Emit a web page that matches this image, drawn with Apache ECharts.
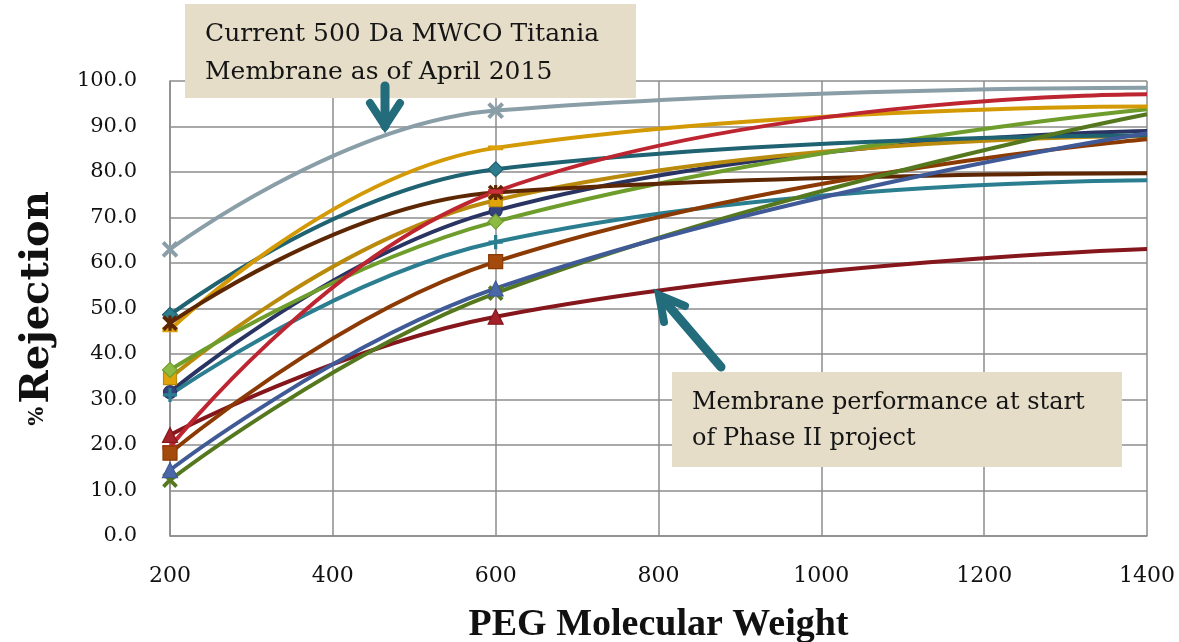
<!DOCTYPE html>
<html>
<head>
<meta charset="utf-8">
<script src="https://cdn.jsdelivr.net/npm/echarts@6/dist/echarts.min.js"></script>
<style>
  html, body { margin: 0; padding: 0; background: #ffffff; }
  #chart { width: 1179px; height: 642px; }
</style>
</head>
<body>
<div id="chart"></div>
<script>
// ---- data ----
const pegMW = [200, 600, 1400];
const yTicks = [0, 10, 20, 30, 40, 50, 60, 70, 80, 90, 100];
const xTicks = [200, 400, 600, 800, 1000, 1200, 1400];

const greyBlue   = [63.0, 93.5, 98.5];
const darkTeal   = [48.6, 80.6, 88.0];
const darkBrown  = [46.8, 75.5, 79.7];
const brightGold = [45.3, 85.3, 94.4];
const lightGreen = [36.5, 69.1, 93.8];
const khakiGold  = [34.7, 73.8, 87.9];
const darkNavy   = [31.6, 71.5, 89.0];
const teal       = [31.0, 64.6, 78.2];
const darkRed    = [22.2, 48.2, 63.1];
const brightRed  = [19.5, 75.7, 97.1];
const brown      = [18.2, 60.3, 87.2];
const blue       = [14.5, 54.4, 88.5];
const olive      = [12.3, 53.4, 92.7];

// ---- marker shapes ----
const X_PATH = 'path://M0,1.3L1.3,0L5,3.7L8.7,0L10,1.3L6.3,5L10,8.7L8.7,10L5,6.3L1.3,10L0,8.7L3.7,5Z';
const PLUS_PATH = 'path://M4.2,0L5.8,0L5.8,4.2L10,4.2L10,5.8L5.8,5.8L5.8,10L4.2,10L4.2,5.8L0,5.8L0,4.2L4.2,4.2Z';
const STAR_PATH = 'path://M0,1.3L1.3,0L5,3.7L8.7,0L10,1.3L6.3,5L10,8.7L8.7,10L5,6.3L1.3,10L0,8.7L3.7,5Z M4.3,0L5.7,0L5.7,10L4.3,10Z';

// series definitions (draw order: later on top)
const seriesDefs = [
  { name: 'Navy',        data: darkNavy,   line: '#2a3463', fill: '#34427a', symbol: 'circle',   size: 13 },
  { name: 'Teal',        data: teal,       line: '#2b7d90', fill: '#2b7d90', symbol: PLUS_PATH,  size: 13 },
  { name: 'Khaki gold',  data: khakiGold,  line: '#b98a0c', fill: '#e0a40a', symbol: 'rect',     size: 13 },
  { name: 'Light green', data: lightGreen, line: '#6f9d2c', fill: '#8cba42', symbol: 'diamond',  size: 15 },
  { name: 'Dark teal',   data: darkTeal,   line: '#1f6272', fill: '#2d7d8e', symbol: 'diamond',  size: 15 },
  { name: 'Bright gold', data: brightGold, line: '#d49a05', fill: '#e0a40a', symbol: 'rect',     size: [13, 4] },
  { name: 'Dark brown',  data: darkBrown,  line: '#5e2704', fill: '#5e2704', symbol: STAR_PATH,  size: 14 },
  { name: 'Grey',        data: greyBlue,   line: '#8a9ea8', fill: '#8a9ea8', symbol: X_PATH,     size: 15 },
  { name: 'Dark red',    data: darkRed,    line: '#85161c', fill: '#a3222a', symbol: 'triangle', size: 15 },
  { name: 'Bright red',  data: brightRed,  line: '#bd2530', fill: '#c8303a', symbol: 'rect',     size: [13, 4] },
  { name: 'Brown',       data: brown,      line: '#8c3a04', fill: '#a34a0c', symbol: 'rect',     size: 14 },
  { name: 'Olive',       data: olive,      line: '#55781f', fill: '#55781f', symbol: X_PATH,     size: 14 },
  { name: 'Blue',        data: blue,       line: '#3f5a96', fill: '#4a67a8', symbol: 'triangle', size: 15 }
];

const chart = echarts.init(document.getElementById('chart'), null, { renderer: 'canvas' });

const series = seriesDefs.map(function (d) {
  return {
    name: d.name,
    type: 'line',
    smooth: 0.45,
    z: 2,
    symbol: d.symbol,
    symbolSize: d.size,
    lineStyle: { color: d.line, width: 4 },
    itemStyle: { color: d.fill, borderColor: d.line, borderWidth: 1.2 },
    emphasis: { disabled: true },
    data: pegMW.map(function (x, i) {
      const item = { value: [x, d.data[i]] };
      if (x === pegMW[pegMW.length - 1]) { item.symbol = 'none'; }
      return item;
    })
  };
});

const serif = '"DejaVu Serif", "Liberation Serif", serif';
const arrowColor = '#226c7c';

const option = {
  backgroundColor: '#ffffff',
  animation: false,
  grid: { left: 170, right: 32, top: 81, bottom: 106, containLabel: false, outerBoundsMode: 'none' },
  xAxis: {
    type: 'value',
    min: xTicks[0],
    max: xTicks[xTicks.length - 1],
    interval: 200,
    name: 'PEG Molecular Weight',
    nameLocation: 'middle',
    nameGap: 70,
    nameTextStyle: { fontFamily: '"Liberation Serif", serif', fontWeight: 'bold', fontSize: 38, color: '#111' },
    axisLine: { show: true, lineStyle: { color: '#8c8c8c', width: 1.5 } },
    axisTick: { show: false },
    axisLabel: { margin: 29, fontFamily: serif, fontSize: 22, color: '#111',
      formatter: function (v) { return String(v); } },
    splitLine: { show: true, lineStyle: { color: '#8c8c8c', width: 1.5 } }
  },
  yAxis: {
    type: 'value',
    min: yTicks[0],
    max: yTicks[yTicks.length - 1],
    interval: 10,
    name: '{p|%} {r|Rejection}',
    nameLocation: 'middle',
    nameRotate: 90,
    nameGap: 112,
    nameTextStyle: {
      rich: {
        p: { fontFamily: serif, fontWeight: 'bold', fontSize: 20, color: '#111' },
        r: { fontFamily: serif, fontWeight: 'bold', fontSize: 40, color: '#111' }
      }
    },
    axisLine: { show: true, lineStyle: { color: '#8c8c8c', width: 1.5 } },
    axisTick: { show: false },
    axisLabel: {
      margin: 33, fontFamily: serif, fontSize: 21, color: '#111',
      formatter: function (v) { return v.toFixed(1); }
    },
    splitLine: { show: true, lineStyle: { color: '#8c8c8c', width: 1.5 } }
  },
  graphic: [
    // top annotation box
    { type: 'rect', z: 100, shape: { x: 185, y: 4, width: 451, height: 94 }, style: { fill: '#e6ddc8' } },
    { type: 'text', z: 101, style: {
        x: 205, y: 15, text: 'Current 500 Da MWCO Titania\nMembrane as of April 2015',
        font: '25px ' + serif, fill: '#151515', lineHeight: 38, verticalAlign: 'top'
    } },
    { type: 'polyline', z: 102, shape: { points: [[385, 86], [385, 126]] },
      style: { stroke: arrowColor, lineWidth: 9, lineCap: 'round', fill: null } },
    { type: 'polyline', z: 102, shape: { points: [[370, 103], [385, 126], [400, 103]] },
      style: { stroke: arrowColor, lineWidth: 8, lineCap: 'round', lineJoin: 'miter', fill: null } },
    // bottom annotation box
    { type: 'rect', z: 100, shape: { x: 672, y: 372, width: 450, height: 95 }, style: { fill: '#e6ddc8' } },
    { type: 'text', z: 101, style: {
        x: 692, y: 385, text: 'Membrane performance at start\nof Phase II project',
        font: '24px ' + serif, fill: '#151515', lineHeight: 36, verticalAlign: 'top'
    } },
    { type: 'polyline', z: 102, shape: { points: [[721, 367], [661, 297]] },
      style: { stroke: arrowColor, lineWidth: 9, lineCap: 'round', fill: null } },
    { type: 'polyline', z: 102, shape: { points: [[664, 322], [659, 295], [685, 306]] },
      style: { stroke: arrowColor, lineWidth: 8, lineCap: 'round', lineJoin: 'miter', fill: null } }
  ],
  series: series
};

chart.setOption(option);
</script>
</body>
</html>
